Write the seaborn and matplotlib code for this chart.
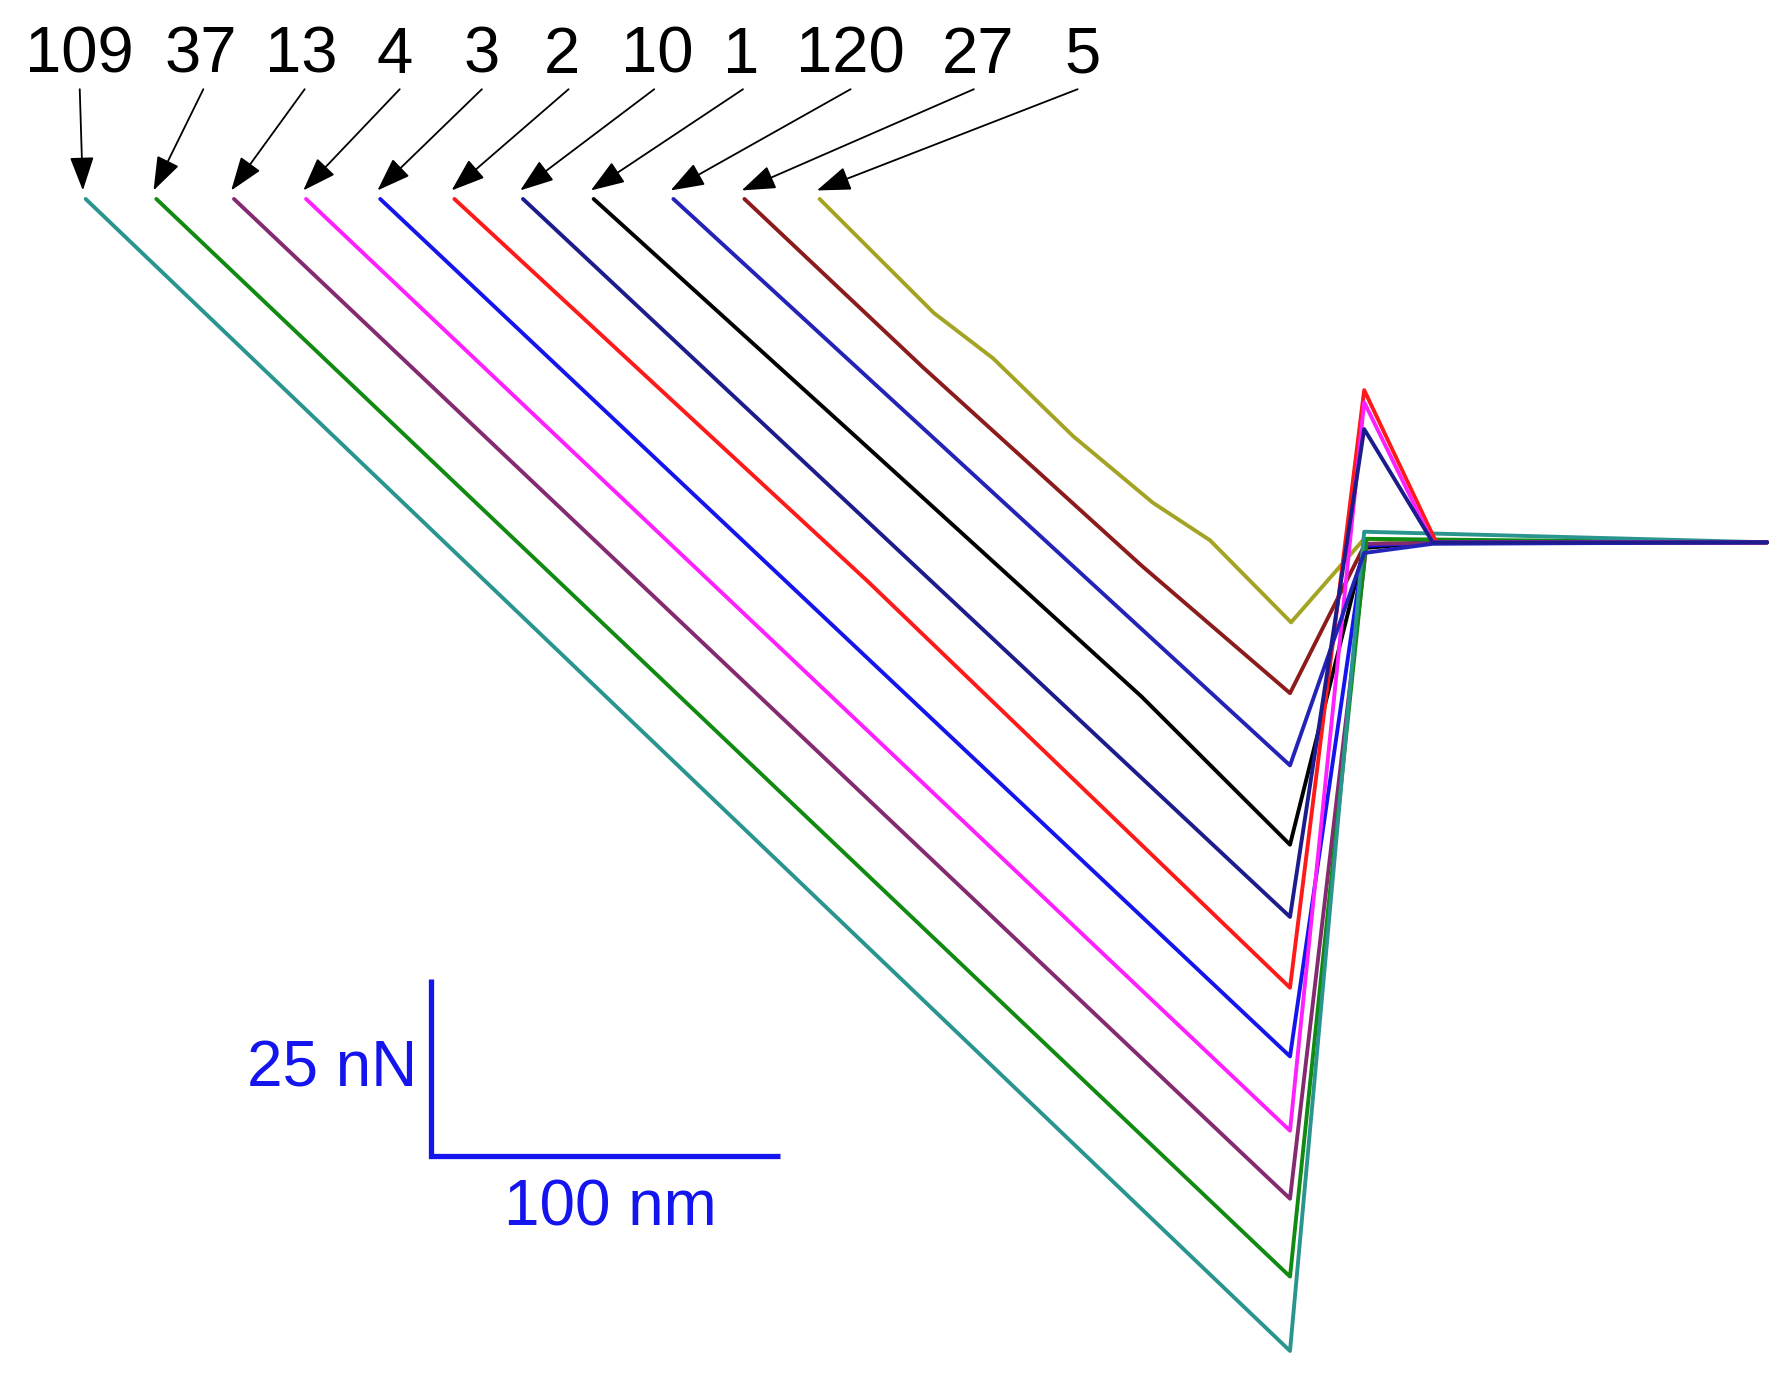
import numpy as np
import matplotlib
matplotlib.use("Agg")
import matplotlib.pyplot as plt
import pandas as pd
import seaborn as sns

# curve labels, in the order they appear along the top
labels = ["109", "37", "13", "4", "3", "2", "10", "1", "120", "27", "5"]
colors = ["#2a958f", "#118a11", "#842a70", "#ff20ff", "#1414ee",
          "#ff1a1a", "#1c1c8c", "#000000", "#2323b8", "#8c1c1c", "#a3a324"]
# drawing order (last one ends up on top)
draw_order = ["5", "27", "1", "3", "13", "37", "109", "2", "4", "120", "10"]

# force curves, x in nm, y in nN
x_109 = [-367.2, -21.3, 0.0, 31.1, 115.7]
y_109 = [48.5, -114.2, 1.5, 1.1, 0.0]
x_37 = [-346.9, -21.3, 0.7, 40.0, 115.7]
y_37 = [48.5, -103.7, 0.5, 0.3, 0.0]
x_13 = [-324.6, -21.3, 0.7, 40.0, 115.7]
y_13 = [48.5, -92.7, -0.2, 0.0, 0.0]
x_4 = [-303.9, -21.3, 0.0, 19.7, 115.7]
y_4 = [48.5, -83.1, 19.8, 0.0, 0.0]
x_3 = [-282.6, -21.3, 0.0, 20.0, 115.7]
y_3 = [48.5, -72.6, -0.5, 0.0, 0.0]
x_2 = [-261.3, -142.6, -21.3, 0.0, 20.7, 115.7]
y_2 = [48.5, -5.5, -62.9, 21.5, 0.0, 0.0]
x_10 = [-241.6, -21.3, 0.0, 19.7, 115.7]
y_10 = [48.5, -52.9, 16.0, 0.0, 0.0]
x_1 = [-221.3, -147.5, -63.9, -21.3, 0.0, 20.0, 115.7]
y_1 = [48.5, 15.6, -21.8, -42.7, -0.8, 0.0, 0.0]
x_120 = [-198.4, -21.3, 0.0, 19.7, 115.7]
y_120 = [48.5, -31.5, -1.5, -0.2, 0.0]
x_27 = [-178.0, -126.9, -63.9, -21.3, 0.0, 20.0, 115.7]
y_27 = [48.5, 24.8, -3.3, -21.3, -0.5, 0.0, 0.0]
x_5 = [-156.4, -123.6, -106.6, -83.6, -60.7, -44.3, -21.0, 0.0, 20.0, 115.7]
y_5 = [48.5, 32.4, 26.0, 15.0, 5.6, 0.3, -11.3, 0.5, 0.0, 0.0]

xs = [x_109, x_37, x_13, x_4, x_3, x_2, x_10, x_1, x_120, x_27, x_5]
ys = [y_109, y_37, y_13, y_4, y_3, y_2, y_10, y_1, y_120, y_27, y_5]

# where the number labels sit (layout, data units)
label_x = [-368.9, -334.1, -305.2, -278.4, -253.4, -230.5, -203.0, -179.0, -147.5, -110.8, -81.0]
label_y = 66.3
tail_x = [-368.9, -333.4, -304.3, -277.0, -253.4, -228.5, -203.9, -178.4, -147.5, -112.1, -82.3]
tail_y = 64.0

rows = []
for lab, x, y in zip(labels, xs, ys):
    for i in range(len(x)):
        rows.append({"curve": lab, "x": x[i], "y": y[i], "order": i})
df = pd.DataFrame(rows)

sns.set_theme(style="white")
plt.rcParams["font.family"] = ["Liberation Sans", "DejaVu Sans"]

fig = plt.figure(figsize=(17.9, 13.75), dpi=100)
ax = fig.add_axes([0, 0, 1, 1])

sns.lineplot(data=df, x="x", y="y", hue="curve", hue_order=draw_order,
             palette=dict(zip(labels, colors)), sort=False, estimator=None,
             linewidth=2.8, legend=False, ax=ax)

for lab, x, y, lx, tx in zip(labels, xs, ys, label_x, tail_x):
    ax.text(lx, label_y, lab, fontsize=47, ha="center", va="baseline", color="black")
    ax.annotate("", xy=(x[0] - 0.8, y[0] + 1.2), xytext=(tx, tail_y),
                arrowprops=dict(arrowstyle="-|>,head_length=0.7,head_width=0.25",
                                color="black", lw=1.3,
                                mutation_scale=30, shrinkA=0, shrinkB=0))

# scale bar
bar_x, bar_y = -267.9, -86.6
ax.plot([bar_x, bar_x, bar_x + 100], [bar_y + 25, bar_y, bar_y], color="#1414ee",
        lw=3.8, solid_capstyle="butt", solid_joinstyle="miter")
ax.text(bar_x - 4.2, bar_y + 9.7, "25 nN", fontsize=46, ha="right", va="baseline", color="#1414ee")
ax.text(bar_x + 51.5, bar_y - 9.9, "100 nm", fontsize=46, ha="center", va="baseline", color="#1414ee")

ax.set_xlim(-391.8, 122.3)
ax.set_ylim(-117.6, 76.6)
ax.axis("off")

plt.savefig("out.png", dpi=100)
